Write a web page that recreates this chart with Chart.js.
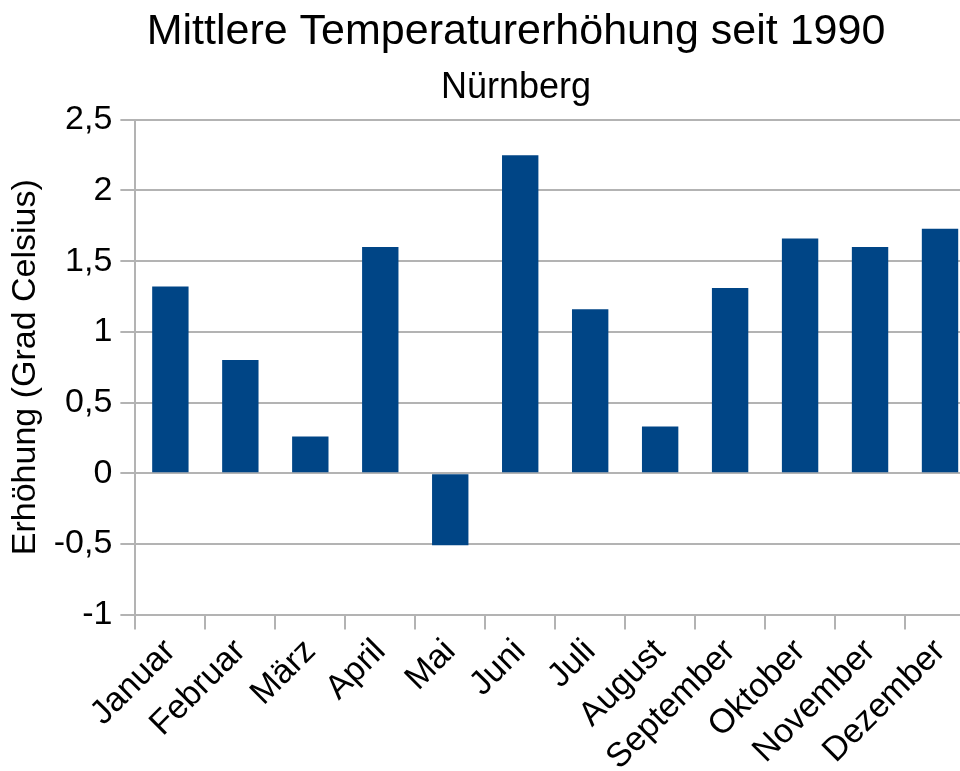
<!DOCTYPE html>
<html>
<head>
<meta charset="utf-8">
<script src="https://cdn.jsdelivr.net/npm/chart.js@4.4.0/dist/chart.umd.js"></script>
<style>
  html, body { margin: 0; padding: 0; background: #fff; overflow: hidden; }
  #wrap { position: relative; width: 1032px; height: 780px; }
</style>
</head>
<body>
<div id="wrap"><canvas id="chart"></canvas></div>
<script>
const months = ['Januar', 'Februar', 'März', 'April', 'Mai', 'Juni', 'Juli',
  'August', 'September', 'Oktober', 'November', 'Dezember'];
const increase = [1.32, 0.8, 0.26, 1.6, -0.51, 2.25, 1.16, 0.33, 1.31, 1.66, 1.6, 1.73];
const yTicks = [-1, -0.5, 0, 0.5, 1, 1.5, 2, 2.5];

const font = "'Liberation Sans', Arial, sans-serif";
const gridColor = '#b3b3b3';

// the original centres its titles on the whole (wider) chart, not between the paddings
const titleShift = {
    id: 'titleShift',
    afterLayout(chart) {
        chart.boxes.forEach(b => {
            if (b.options && typeof b.options.text === 'string') {
                b.left += 26;
                b.right += 26;
            }
        });
    }
};

const ctx = document.getElementById('chart').getContext('2d');

new Chart(ctx, {
    type: 'bar',
    data: {
        labels: months,
        datasets: [
            {
                label: 'Erhöhung',
                data: increase,
                backgroundColor: '#004586',
                borderWidth: 0,
                barPercentage: 0.52,
                categoryPercentage: 1
            }
        ]
    },
    plugins: [titleShift],
    options: {
        responsive: true,
        maintainAspectRatio: false,
        animation: false,
        layout: {
            padding: { left: 5, right: 57, top: 4, bottom: 0 }
        },
        plugins: {
            legend: { display: false },
            tooltip: { enabled: false },
            title: {
                display: true,
                text: 'Mittlere Temperaturerhöhung seit 1990',
                color: '#000',
                font: { family: font, size: 43, weight: 'normal' },
                padding: { top: 2, bottom: 9 }
            },
            subtitle: {
                display: true,
                text: 'Nürnberg',
                color: '#000',
                font: { family: font, size: 36, weight: 'normal' },
                padding: { top: 0, bottom: 10 }
            }
        },
        scales: {
            y: {
                min: yTicks[0],
                max: yTicks[yTicks.length - 1],
                afterBuildTicks: (axis) => {
                    axis.ticks = yTicks.map(v => ({ value: v }));
                },
                ticks: {
                    color: '#000',
                    font: { family: font, size: 34 },
                    padding: 8,
                    callback: (v) => String(v).replace('.', ',')
                },
                grid: {
                    color: gridColor,
                    lineWidth: 2,
                    tickLength: 15
                },
                border: { display: true, color: gridColor, width: 2 },
                title: {
                    display: true,
                    text: 'Erhöhung (Grad Celsius)',
                    color: '#000',
                    font: { family: font, size: 34 },
                    padding: { top: 0, bottom: 0 }
                }
            },
            x: {
                ticks: {
                    color: '#000',
                    font: { family: font, size: 34 },
                    minRotation: 45,
                    maxRotation: 45,
                    autoSkip: false,
                    padding: 2
                },
                grid: {
                    color: gridColor,
                    lineWidth: 2,
                    drawOnChartArea: false,
                    drawTicks: true,
                    tickLength: 15
                },
                border: { display: true, color: gridColor, width: 2 }
            }
        }
    }
});
</script>
</body>
</html>
